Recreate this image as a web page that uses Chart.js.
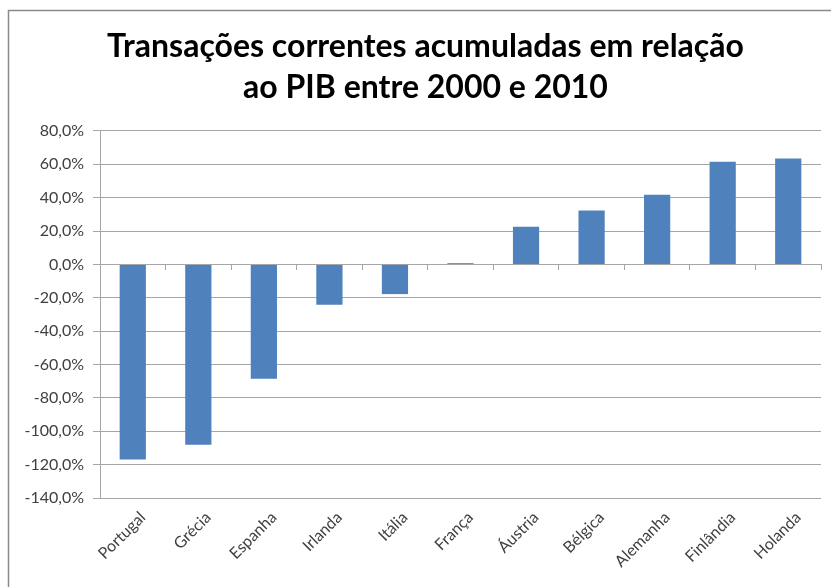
<!DOCTYPE html>
<html>
<head>
<meta charset="utf-8">
<script src="https://cdn.jsdelivr.net/npm/chart.js@4/dist/chart.umd.min.js"></script>
<style>
  html, body { margin: 0; padding: 0; background: #fff; }
  #wrap { width: 831px; height: 587px; position: relative; }
</style>
</head>
<body>
<div id="wrap"><canvas id="chart" width="831" height="587"></canvas></div>
<script>
// dados
const paises = ["Portugal", "Grécia", "Espanha", "Irlanda", "Itália", "França",
                "Áustria", "Bélgica", "Alemanha", "Finlândia", "Holanda"];
const valores = [-116.9, -108.1, -68.6, -24.2, -17.8, 0.8, 22.6, 32.3, 41.7, 61.5, 63.5];
const titulo = ["Transações correntes acumuladas em relação", "ao PIB entre 2000 e 2010"];
const yMin = -140;
const yMax = 80;
const yPasso = 20;

const corGrade = "#a6a6a6";
const corTexto = "#404040";

// moldura cinza do gráfico (como no Excel)
const moldura = {
    id: "moldura",
    beforeDraw(chart) {
        const ctx = chart.ctx;
        ctx.save();
        ctx.fillStyle = "#fff";
        ctx.fillRect(0, 0, chart.width, chart.height);
        ctx.strokeStyle = "#8a8a8a";
        ctx.lineWidth = 1.5;
        ctx.strokeRect(8.5, 10.5, chart.width + 20, chart.height + 20);
        ctx.restore();
    }
};

const config = {
    type: "bar",
    data: {
        labels: paises,
        datasets: [{
            data: valores,
            backgroundColor: "#4f81bd",
            borderWidth: 0,
            barPercentage: 0.4,
            categoryPercentage: 1
        }]
    },
    options: {
        responsive: false,
        animation: false,
        layout: { padding: { left: 30, right: 10, top: 0, bottom: 0 } },
        plugins: {
            legend: { display: false },
            tooltip: { enabled: false },
            title: {
                display: true,
                text: titulo,
                color: "#000",
                font: { family: "Lato", size: 32, weight: "bold", lineHeight: 1.28 },
                padding: { top: 26, bottom: 23 }
            }
        },
        scales: {
            x: {
                offset: true,
                grid: { display: false },
                border: { display: false },
                ticks: {
                    color: corTexto,
                    font: { family: "Lato", size: 16 },
                    maxRotation: 45,
                    minRotation: 45,
                    padding: 2,
                    labelOffset: 10
                },
                afterFit(scale) { scale.height = 89; }
            },
            // eixo auxiliar na linha do zero, só com as marcas
            xZero: {
                type: "category",
                position: { y: 0 },
                offset: true,
                grid: { drawOnChartArea: false, color: corGrade, tickLength: 5, offset: true },
                border: { color: corGrade, width: 1 },
                ticks: { display: false }
            },
            y: {
                min: yMin,
                max: yMax,
                ticks: {
                    stepSize: yPasso,
                    color: corTexto,
                    font: { family: "Lato", size: 16 },
                    padding: 9,
                    callback: v => v.toFixed(1).replace(".", ",") + "%"
                },
                grid: { color: corGrade, tickLength: 7 },
                border: { color: corGrade },
                afterFit(scale) {
                    scale.width = 70;
                    // não cortar os rótulos longos (-140,0%) na borda do eixo
                    scale._computeLabelArea = () => undefined;
                }
            }
        }
    },
    plugins: [moldura]
};

new Chart(document.getElementById("chart"), config);
</script>
</body>
</html>
